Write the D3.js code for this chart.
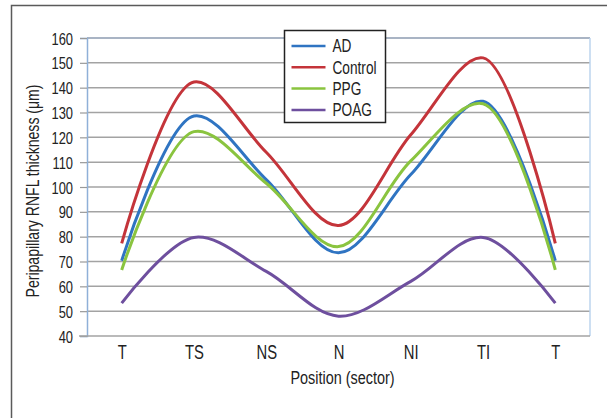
<!DOCTYPE html>
<html>
<head>
<meta charset="utf-8">
<script src="https://cdn.jsdelivr.net/npm/d3@7"></script>
<style>
  body { margin: 0; background: #fff; }
  svg text { font-family: "Liberation Sans", Arial, sans-serif; fill: #222; }
</style>
</head>
<body>
<svg id="chart" width="607" height="418"></svg>
<script>
// sector labels along the circle scan
const positions = ["T", "TS", "NS", "N", "NI", "TI", "T"];
const yTicks = [40, 50, 60, 70, 80, 90, 100, 110, 120, 130, 140, 150, 160];

// mean RNFL thickness per sector (µm)
const adValues      = [70.3, 128.6, 103, 73.5, 105, 134.5, 70.3];
const controlValues = [77.3, 142.3, 114, 84.5, 121, 152, 77.3];
const ppgValues     = [66.6, 122.3, 101.5, 76, 110.5, 133.5, 66.6];
const poagValues    = [53.2, 79.7, 66, 48, 62, 79.7, 53.2];

const seriesNames = ["AD", "Control", "PPG", "POAG"];
const seriesColors = ["#2f74c2", "#c4343a", "#8ac43f", "#6e4f9e"];

const series = [adValues, controlValues, ppgValues, poagValues].map((values, i) => ({
    name: seriesNames[i],
    color: seriesColors[i],
    values: values
}));

const margin = { top: 38, right: 17, bottom: 82, left: 87 };
const width = 607, height = 418;
const narrow = 0.76; // the original uses a condensed face

const svg = d3.select("#chart");

// squeeze text horizontally around its own anchor point
function condense(sel, pre = "") {
    sel.each(function() {
        const t = d3.select(this);
        const x0 = +t.attr("x") || 0;
        t.attr("transform", `${pre} translate(${x0},0) scale(${narrow},1) translate(${-x0},0)`);
    });
}

// outer frame (top and left edges)
svg.append("path")
    .attr("d", `M${width},5.5 H11.5 V${height}`)
    .attr("fill", "none")
    .attr("stroke", "#5a5a5a")
    .attr("stroke-width", 1.5);

const x = d3.scalePoint()
    .domain(d3.range(positions.length))
    .range([margin.left, width - margin.right])
    .padding(0.48);

const y = d3.scaleLinear()
    .domain([40, 160])
    .range([height - margin.bottom, margin.top]);

// gridlines
svg.append("g")
    .selectAll("line")
    .data(yTicks.slice(1, -1))
    .enter()
    .append("line")
        .attr("x1", margin.left)
        .attr("x2", width - margin.right)
        .attr("y1", d => y(d))
        .attr("y2", d => y(d))
        .attr("stroke", "#a3a3a3")
        .attr("stroke-width", 1.5);

// plot border top / right
svg.append("line")
    .attr("x1", margin.left).attr("x2", width - margin.right)
    .attr("y1", y(160)).attr("y2", y(160))
    .attr("stroke", "#8c9bb0").attr("stroke-width", 1.5);
svg.append("line")
    .attr("x1", width - margin.right).attr("x2", width - margin.right)
    .attr("y1", y(160)).attr("y2", y(40))
    .attr("stroke", "#bcd4ee").attr("stroke-width", 1.5);

// y axis
const yAxis = svg.append("g")
    .attr("transform", `translate(${margin.left}, 0)`)
    .call(d3.axisLeft(y).tickValues(yTicks).tickSize(7).tickPadding(7));
yAxis.select(".domain").attr("stroke", "#8fb0d8").attr("stroke-width", 1.5);
yAxis.selectAll(".tick line").attr("stroke", "#999").attr("stroke-width", 1.2);
yAxis.selectAll("text").style("font-size", "17px").attr("dy", "0.36em").attr("fill", "#222").call(condense);

// x axis
const xAxis = svg.append("g")
    .attr("transform", `translate(0, ${y(40)})`)
    .call(d3.axisBottom(x).tickSize(0).tickPadding(9).tickFormat(i => positions[i]));
xAxis.select(".domain")
    .attr("d", `M${margin.left - 8},0H${width - margin.right}`)
    .attr("stroke", "#a3a3a3").attr("stroke-width", 1.5);
xAxis.selectAll("text").style("font-size", "19.5px").attr("fill", "#222").call(condense);

// axis titles
svg.append("text")
    .attr("text-anchor", "middle")
    .style("font-size", "19px")
    .text("Position (sector)")
    .call(condense, `translate(${(margin.left + width - margin.right) / 2 + 4}, 384)`);

svg.append("text")
    .attr("text-anchor", "middle")
    .style("font-size", "18.5px")
    .text("Peripapillary RNFL thickness (\u03bcm)")
    .call(condense, `translate(39, ${(y(40) + y(160)) / 2 + 4}) rotate(-90)`);

// lines
const line = d3.line()
    .x((d, i) => x(i))
    .y(d => y(d))
    .curve(d3.curveCatmullRom.alpha(0.5));

svg.append("g")
    .selectAll("path")
    .data(series)
    .enter()
    .append("path")
        .attr("d", d => line(d.values))
        .attr("fill", "none")
        .attr("stroke", d => d.color)
        .attr("stroke-width", 3)
        .attr("stroke-linejoin", "round");

// legend
const legend = svg.append("g").attr("transform", "translate(284.5, 30.5)");
legend.append("rect")
    .attr("width", 101).attr("height", 92)
    .attr("fill", "#fff")
    .attr("stroke", "#222")
    .attr("stroke-width", 1.5);

const item = legend.selectAll(".item")
    .data(series)
    .enter()
    .append("g")
        .attr("class", "item")
        .attr("transform", (d, i) => `translate(0, ${15.5 + i * 21.3})`);
item.append("line")
    .attr("x1", 7).attr("x2", 41)
    .attr("stroke", d => d.color)
    .attr("stroke-width", 2.5);
item.append("text")
    .attr("x", 48)
    .attr("dy", "0.36em")
    .style("font-size", "18px")
    .text(d => d.name)
    .call(condense);
</script>
</body>
</html>
